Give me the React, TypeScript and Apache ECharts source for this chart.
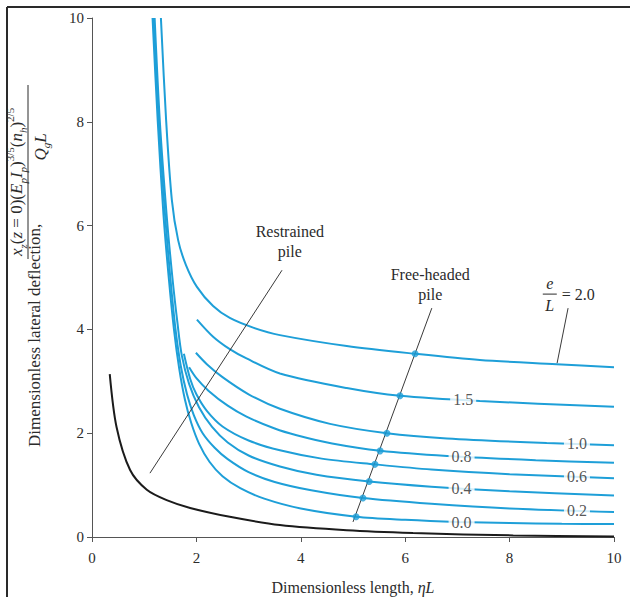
import React, { useEffect, useRef } from "react";
import * as echarts from "echarts";

// ---------- axis ticks ----------
const xTickValues = [0, 2, 4, 6, 8, 10];
const yTickValues = [0, 2, 4, 6, 8, 10];

// ---------- restrained pile ----------
const restrainedX = [0.34, 0.47, 0.73, 1.05, 1.43, 1.88, 2.64, 3.6, 4.88, 6.15, 8.07, 10];
const restrainedY = [3.14, 2.12, 1.29, 0.91, 0.71, 0.56, 0.39, 0.23, 0.13, 0.077, 0.03, 0.01];

// ---------- free-headed pile curves (e/L) ----------
const curveNames = ["2.0", "1.5", "1.0", "0.8", "0.6", "0.4", "0.2", "0.0"];
const eL20X = [1.32, 1.42, 1.53, 1.65, 1.8, 2.01, 2.32, 2.64, 3.1, 3.6, 4.88, 6.19, 7.43, 8.9, 10];
const eL20Y = [10, 8.03, 6.49, 5.72, 5.24, 4.82, 4.45, 4.22, 4.03, 3.89, 3.68, 3.53, 3.41, 3.33, 3.27];
const eL15X = [2.01, 2.32, 2.64, 2.96, 3.6, 4.88, 5.9, 7.43, 10];
const eL15Y = [4.19, 3.86, 3.62, 3.44, 3.15, 2.87, 2.72, 2.62, 2.51];
const eL10X = [1.99, 2.2, 2.5, 3.0, 3.6, 4.56, 5.65, 6.8, 8.71, 10];
const eL10Y = [3.55, 3.33, 3.08, 2.75, 2.47, 2.18, 2.0, 1.9, 1.81, 1.77];
const eL08X = [1.86, 2.0, 2.23, 2.6, 2.96, 3.5, 3.92, 4.6, 5.52, 6.8, 8.5, 10];
const eL08Y = [3.27, 3.06, 2.82, 2.53, 2.32, 2.09, 1.96, 1.8, 1.66, 1.56, 1.48, 1.43];
const eL06X = [1.76, 1.88, 2.0, 2.2, 2.5, 3.0, 3.6, 4.4, 5.42, 6.5, 8.0, 10];
const eL06Y = [3.53, 3.05, 2.75, 2.43, 2.13, 1.86, 1.67, 1.51, 1.4, 1.3, 1.21, 1.13];
const eL04X = [1.2, 1.3, 1.43, 1.54, 1.64, 1.72, 1.86, 2.05, 2.3, 2.6, 3.0, 3.6, 4.3, 5.31, 6.5, 8.0, 10];
const eL04Y = [10, 8.0, 6.2, 5.0, 4.1, 3.5, 2.95, 2.5, 2.12, 1.82, 1.57, 1.36, 1.2, 1.07, 0.97, 0.88, 0.8];
const eL02X = [1.18, 1.28, 1.4, 1.5, 1.6, 1.7, 1.82, 1.95, 2.12, 2.35, 2.6, 3.0, 3.5, 4.2, 5.19, 6.5, 8.0, 10];
const eL02Y = [10, 8.0, 6.2, 5.0, 4.0, 3.3, 2.75, 2.35, 2.0, 1.72, 1.5, 1.25, 1.06, 0.9, 0.75, 0.64, 0.55, 0.48];
const eL00X = [1.16, 1.26, 1.37, 1.47, 1.57, 1.67, 1.78, 1.9, 2.05, 2.25, 2.5, 2.84, 3.3, 4.0, 5.06, 6.0, 7.0, 8.0, 9.0, 10];
const eL00Y = [10, 8.0, 6.2, 5.0, 4.0, 3.25, 2.65, 2.2, 1.8, 1.45, 1.17, 0.94, 0.74, 0.55, 0.39, 0.33, 0.29, 0.27, 0.255, 0.25];

// ---------- free-headed pile points ----------
const dotX = [6.19, 5.9, 5.65, 5.52, 5.42, 5.31, 5.19, 5.06];
const dotY = [3.53, 2.72, 2.0, 1.66, 1.4, 1.07, 0.75, 0.39];

// ---------- leader lines ----------
const freeHeadedLineX = [5.0, 6.51];
const freeHeadedLineY = [0.29, 4.41];
const restrainedLeaderX = [1.11, 3.64];
const restrainedLeaderY = [1.23, 5.14];
const eLLeaderX = [8.91, 9.12];
const eLLeaderY = [3.35, 4.41];

// ---------- inline curve labels ----------
const inlineLabels = ["1.5", "1.0", "0.8", "0.6", "0.4", "0.2", "0.0"];
const inlineLabelX = [7.11, 9.29, 7.08, 9.29, 7.08, 9.29, 7.08];

// ---------- annotation anchors (data coords) ----------
const restrainedTextAt = [3.79, 5.7];
const freeHeadedTextAt = [6.48, 4.86];
const eLTextAt = [8.77, 4.68];

const BLUE = "#1e9fd8";
const SERIF = "'Liberation Serif', 'Times New Roman', serif";
const TEXT = "#2b2b2b";

const zip = (xs: number[], ys: number[]) => xs.map((x, i) => [x, ys[i]]);
const interp = (xs: number[], ys: number[], x: number) => {
  for (let i = 0; i < xs.length - 1; i++) {
    if (x >= xs[i] && x <= xs[i + 1]) {
      const t = (x - xs[i]) / (xs[i + 1] - xs[i]);
      return ys[i] + t * (ys[i + 1] - ys[i]);
    }
  }
  return ys[ys.length - 1];
};

export default function App() {
  const ref = useRef<HTMLDivElement>(null);
  useEffect(() => {
    if (!ref.current) return;
    const chart = echarts.init(ref.current, undefined, { renderer: "svg" });
    const curvesX = [eL20X, eL15X, eL10X, eL08X, eL06X, eL04X, eL02X, eL00X];
    const curvesY = [eL20Y, eL15Y, eL10Y, eL08Y, eL06Y, eL04Y, eL02Y, eL00Y];

    const labelData = inlineLabels.map((t, i) => {
      const k = curveNames.indexOf(t);
      return { name: t, value: [inlineLabelX[i], interp(curvesX[k], curvesY[k], inlineLabelX[i])] };
    });

    const leader = (xs: number[], ys: number[], color: string) => ({
      type: "line",
      data: zip(xs, ys),
      symbol: "none",
      showSymbol: false,
      silent: true,
      lineStyle: { color, width: 1 },
      z: 3,
    });

    chart.setOption({
      animation: false,
      grid: { left: 92, right: 16, top: 18, bottom: 60, containLabel: false, outerBoundsMode: "none" },
      xAxis: {
        type: "value",
        min: 0,
        max: 10,
        interval: 2,
        name: "{n|Dimensionless length, }{i|ηL}",
        nameLocation: "middle",
        nameGap: 42,
        nameTextStyle: {
          rich: {
            n: { fontFamily: SERIF, fontSize: 16, color: TEXT },
            i: { fontFamily: SERIF, fontSize: 16, color: TEXT, fontStyle: "italic" },
          },
        },
        axisLine: { show: true, lineStyle: { color: "#555", width: 1 } },
        axisTick: { show: true, length: 5, lineStyle: { color: "#555" }, customValues: xTickValues },
        axisLabel: { fontFamily: SERIF, fontSize: 15, color: TEXT, margin: 13, customValues: xTickValues },
        splitLine: { show: false },
      },
      yAxis: {
        type: "value",
        min: 0,
        max: 10,
        interval: 2,
        axisLine: { show: true, lineStyle: { color: "#555", width: 1 } },
        axisTick: { show: true, length: 5, lineStyle: { color: "#555" }, customValues: yTickValues },
        axisLabel: { fontFamily: SERIF, fontSize: 15, color: TEXT, margin: 8, customValues: yTickValues },
        splitLine: { show: false },
      },
      series: [
        ...curvesX.map((xs, k) => ({
          type: "line",
          name: "e/L=" + curveNames[k],
          data: zip(xs, curvesY[k]),
          smooth: 0.3,
          symbol: "none",
          showSymbol: false,
          silent: true,
          lineStyle: { color: BLUE, width: 2 },
          z: 2,
        })),
        {
          type: "line",
          name: "restrained",
          data: zip(restrainedX, restrainedY),
          smooth: 0.3,
          symbol: "none",
          showSymbol: false,
          silent: true,
          lineStyle: { color: "#1b1b1b", width: 2 },
          z: 2,
        },
        leader(freeHeadedLineX, freeHeadedLineY, "#3a3a3a"),
        leader(restrainedLeaderX, restrainedLeaderY, "#3a3a3a"),
        leader(eLLeaderX, eLLeaderY, "#3a3a3a"),
        {
          type: "scatter",
          data: zip(dotX, dotY),
          symbolSize: 7,
          itemStyle: { color: BLUE },
          silent: true,
          z: 4,
        },
        {
          type: "scatter",
          data: labelData,
          symbolSize: 0,
          silent: true,
          z: 5,
          label: {
            show: true,
            position: "inside",
            formatter: "{b}",
            backgroundColor: "#fff",
            padding: [1, 3],
            fontFamily: SERIF,
            fontSize: 16,
            color: TEXT,
          },
        },
      ],
    });

    const p = (a: number[]) => chart.convertToPixel({ gridIndex: 0 }, a) as number[];
    const rp = p(restrainedTextAt);
    const fp = p(freeHeadedTextAt);
    const ep = p(eLTextAt);

    chart.setOption({
      graphic: [
        // frame
        { type: "line", shape: { x1: 7, y1: 7, x2: 630, y2: 7 }, style: { stroke: "#2a2a2a", lineWidth: 2 } },
        { type: "line", shape: { x1: 7, y1: 7, x2: 7, y2: 597 }, style: { stroke: "#2a2a2a", lineWidth: 2 } },
        // annotation texts
        {
          type: "text",
          x: rp[0],
          y: rp[1],
          style: { text: "Restrained\npile", align: "center", verticalAlign: "middle", lineHeight: 20, fontFamily: SERIF, fontSize: 16, fill: TEXT },
        },
        {
          type: "text",
          x: fp[0],
          y: fp[1],
          style: { text: "Free-headed\npile", align: "center", verticalAlign: "middle", lineHeight: 20, fontFamily: SERIF, fontSize: 16, fill: TEXT },
        },
        {
          type: "group",
          x: ep[0],
          y: ep[1],
          children: [
            { type: "text", x: 0, y: -11, style: { text: "e", align: "center", verticalAlign: "middle", fontFamily: SERIF, fontSize: 16, fontStyle: "italic", fill: TEXT } },
            { type: "line", shape: { x1: -7, y1: 0, x2: 7, y2: 0 }, style: { stroke: TEXT, lineWidth: 1 } },
            { type: "text", x: 0, y: 11, style: { text: "L", align: "center", verticalAlign: "middle", fontFamily: SERIF, fontSize: 16, fontStyle: "italic", fill: TEXT } },
            { type: "text", x: 12, y: 0, style: { text: "= 2.0", align: "left", verticalAlign: "middle", fontFamily: SERIF, fontSize: 16, fill: TEXT } },
          ],
        },
        // y axis title (rotated)
        {
          type: "group",
          x: 27,
          y: 447,
          rotation: Math.PI / 2,
          children: [
            {
              type: "text",
              x: 0,
              y: 7,
              style: { text: "Dimensionless lateral deflection,", align: "left", verticalAlign: "middle", fontFamily: SERIF, fontSize: 17, fill: TEXT },
            },
            {
              type: "text",
              x: 191,
              y: -11,
              style: {
                text: "{i|x}{sub|z}{n|(}{i|z}{n| = 0)(}{i|E}{sub|p}{i|I}{sub|p}{n|)}{sup|3/5}{n|(}{i|n}{sub|h}{n|)}{sup|2/5}",
                align: "left",
                verticalAlign: "middle",
                rich: {
                  n: { fontFamily: SERIF, fontSize: 17, lineHeight: 24, fill: TEXT },
                  i: { fontFamily: SERIF, fontSize: 17, lineHeight: 24, fontStyle: "italic", fill: TEXT },
                  sub: { fontFamily: SERIF, fontSize: 11, lineHeight: 11, verticalAlign: "bottom", fontStyle: "italic", fill: TEXT },
                  sup: { fontFamily: SERIF, fontSize: 11, lineHeight: 11, verticalAlign: "top", fill: TEXT },
                },
              },
            },
            { type: "line", shape: { x1: 188, y1: 1, x2: 362, y2: 1 }, style: { stroke: TEXT, lineWidth: 1 } },
            {
              type: "text",
              x: 300,
              y: 13,
              style: {
                text: "{i|Q}{sub|g}{i|L}",
                align: "center",
                verticalAlign: "middle",
                rich: {
                  i: { fontFamily: SERIF, fontSize: 17, lineHeight: 22, fontStyle: "italic", fill: TEXT },
                  sub: { fontFamily: SERIF, fontSize: 11, lineHeight: 11, verticalAlign: "bottom", fontStyle: "italic", fill: TEXT },
                },
              },
            },
          ],
        },
      ],
    });

    return () => chart.dispose();
  }, []);
  return <div ref={ref} style={{ position: "fixed", left: 0, top: 0, width: 630, height: 597, background: "#fff" }} />;
}
